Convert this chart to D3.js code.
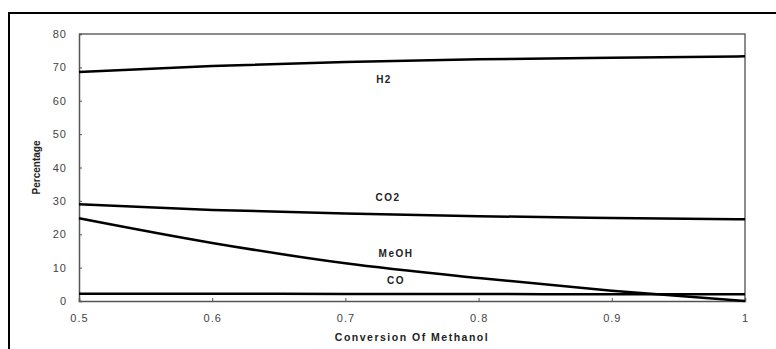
<!DOCTYPE html>
<html>
<head>
<meta charset="utf-8">
<script src="https://cdn.jsdelivr.net/npm/d3@7"></script>
<style>
  body { margin: 0; background: #fff; }
  text { font-family: "Liberation Sans", Arial, sans-serif; }
</style>
</head>
<body>
<div id="chart"></div>
<script>
// conversion of methanol (x) and gas composition in percent
var conversion = [0.5, 0.6, 0.7, 0.8, 0.9, 1.0];
var h2   = [68.6, 70.4, 71.6, 72.4, 72.9, 73.3];
var co2  = [29.0, 27.3, 26.2, 25.4, 24.9, 24.5];
var meoh = [24.8, 17.4, 11.3, 6.9, 3.1, 0.0];
var co   = [2.2, 2.2, 2.1, 2.1, 2.0, 2.0];

var xTicks = [0.5, 0.6, 0.7, 0.8, 0.9, 1];
var yTicks = [0, 10, 20, 30, 40, 50, 60, 70, 80];

var series = [
  {name: "H2", values: h2, lx: 0.729, ly: 66.2},
  {name: "CO2", values: co2, lx: 0.732, ly: 30.9},
  {name: "MeOH", values: meoh, lx: 0.738, ly: 14.1},
  {name: "CO", values: co, lx: 0.738, ly: 6.0}
];

var W = 776, H = 349;
var margin = {top: 34, right: 31, bottom: 48, left: 79},
    width = W - margin.left - margin.right,
    height = H - margin.top - margin.bottom;

var svg = d3.select("#chart")
  .append("svg")
    .attr("width", W)
    .attr("height", H);

// outer frame (only left and top visible)
svg.append("path")
  .attr("d", "M9,349 V13 H776")
  .attr("fill", "none")
  .attr("stroke", "#000")
  .attr("stroke-width", 2);

var g = svg.append("g")
  .attr("transform", "translate(" + margin.left + "," + margin.top + ")");

var x = d3.scaleLinear().domain([0.5, 1]).range([0, width]);
var y = d3.scaleLinear().domain([0, 80]).range([height, 0]);

// plot box top/right
g.append("path")
  .attr("d", "M0,0 H" + width + " V" + height)
  .attr("fill", "none")
  .attr("stroke", "#666")
  .attr("stroke-width", 1.5);

var xAxis = g.append("g")
  .attr("transform", "translate(0," + height + ")")
  .call(d3.axisBottom(x).tickValues(xTicks).tickSize(-3).tickPadding(13)
    .tickFormat(function(d) { return d === 1 ? "1" : d3.format(".1f")(d); }));

var yAxis = g.append("g")
  .call(d3.axisLeft(y).tickValues(yTicks).tickSize(-3).tickPadding(12));

[xAxis, yAxis].forEach(function(a) {
  a.select(".domain").attr("stroke", "#555").attr("stroke-width", 1.5);
  a.selectAll(".tick line").attr("stroke", "#555");
  a.selectAll(".tick text")
    .attr("fill", "#444")
    .style("font-size", "11px")
    .style("letter-spacing", "1px")
    .style("font-family", "Liberation Sans, Arial, sans-serif");
});

var line = d3.line()
  .x(function(d, i) { return x(conversion[i]); })
  .y(function(d) { return y(d); })
  .curve(d3.curveMonotoneX);

g.selectAll(".series")
  .data(series)
  .enter()
  .append("path")
    .attr("class", "series")
    .attr("d", function(d) { return line(d.values); })
    .attr("fill", "none")
    .attr("stroke", "#000")
    .attr("stroke-width", 2.5);

g.selectAll(".lbl")
  .data(series)
  .enter()
  .append("text")
    .attr("class", "lbl")
    .attr("x", function(d) { return x(d.lx); })
    .attr("y", function(d) { return y(d.ly); })
    .attr("text-anchor", "middle")
    .attr("dominant-baseline", "middle")
    .style("font-size", "10px")
    .style("font-weight", "bold")
    .style("letter-spacing", "1.5px")
    .attr("fill", "#222")
    .text(function(d) { return d.name; });

// axis titles
svg.append("text")
  .attr("x", margin.left + width / 2)
  .attr("y", 338)
  .attr("text-anchor", "middle")
  .attr("dominant-baseline", "middle")
  .style("font-size", "10.5px")
  .style("font-weight", "bold")
  .style("letter-spacing", "1.5px")
  .attr("fill", "#222")
  .text("Conversion Of Methanol");

svg.append("text")
  .attr("transform", "translate(37," + (margin.top + height / 2) + ") rotate(-90)")
  .attr("text-anchor", "middle")
  .attr("dominant-baseline", "middle")
  .style("font-size", "10px")
  .style("font-weight", "bold")
  .attr("fill", "#222")
  .text("Percentage");
</script>
</body>
</html>
